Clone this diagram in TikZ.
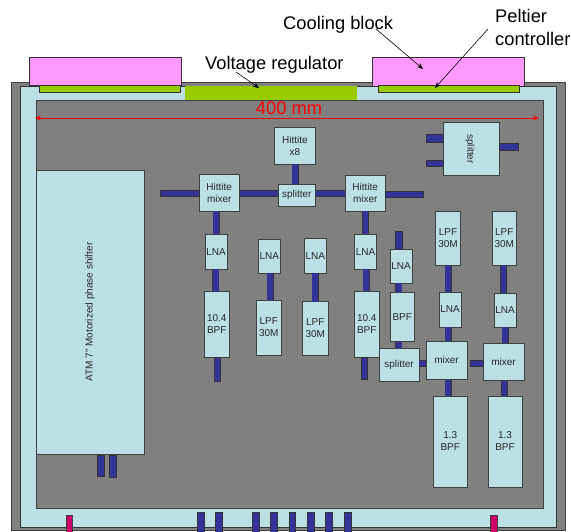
\documentclass[tikz,border=0pt]{standalone}
\usepackage{fontspec}
\setmainfont{Liberation Sans}
\usepackage{xcolor}
\usetikzlibrary{arrows.meta}
\definecolor{CaseGray}{HTML}{808080}
\definecolor{CaseLine}{HTML}{404040}
\definecolor{PlateBlue}{HTML}{BAE0E4}
\definecolor{BlockPink}{HTML}{FF99FF}
\definecolor{PadGreen}{HTML}{99CC00}
\definecolor{WireBlue}{HTML}{333399}
\definecolor{PortRed}{HTML}{CC0066}
\tikzset{
  rfbox/.style={draw=CaseLine, fill=PlateBlue, line width=0.8pt, inner sep=0pt, outer sep=0pt, align=center, text=black!85, font=\fontsize{10}{12}\selectfont},
  plate/.style={draw=black!80, line width=0.7pt, inner sep=0pt, outer sep=0pt},
  wire/.style={draw=black!80, line width=0.6pt, double=WireBlue, double distance=5.8pt},
  stub/.style={draw=black!80, fill=WireBlue, line width=0.6pt},
  port/.style={fill=PortRed, draw=CaseLine, line width=0.3pt},
  callout/.style={font=\fontsize{18.3}{23}\selectfont, inner sep=0pt, align=left},
  pointer/.style={-{Stealth[length=6pt, width=5pt]}, line width=0.6pt}
}
\begin{document}
\begin{tikzpicture}[x=1pt, y=-1pt]
  \useasboundingbox (0,0) rectangle (571,532);
  \filldraw[fill=CaseGray, draw=CaseLine, line width=0.8pt] (11,82) rectangle (565,530);
  \filldraw[fill=PlateBlue, draw=black!80, line width=0.7pt] (20,86) rectangle (556,527);
  \filldraw[fill=CaseGray, draw=CaseLine, line width=0.7pt] (36,100) rectangle (543,508);

  \node[plate, fill=BlockPink, minimum width=152.5pt, minimum height=28pt] (coolblocka) at (105.5,71) {};
  \node[plate, fill=PadGreen, minimum width=141pt, minimum height=7pt] (peltiera) at (109.5,89) {};
  \node[plate, fill=PadGreen, draw=none, minimum width=172.5pt, minimum height=13.5pt] (regulator) at (270.75,93.25) {};
  \node[plate, fill=BlockPink, minimum width=152pt, minimum height=28.5pt] (coolblockb) at (448,71.75) {};
  \node[plate, fill=PadGreen, minimum width=141pt, minimum height=7pt] (peltierb) at (448.5,89) {};

  \node[callout, anchor=west] (coollabel) at (283,25) {Cooling block};
  \node[callout, anchor=west] (reglabel) at (205,65) {Voltage regulator};
  \node[callout, anchor=west] (peltlabel) at (495,27) {Peltier\\controller};
  \node[font=\fontsize{18.3}{23}\selectfont, text=red, inner sep=0pt] (widthlabel) at (289,108) {400 mm};
  \coordinate (regfrom) at (236,72);
  \coordinate (regto) at (259,88);
  \coordinate (coolfrom) at (376,29);
  \coordinate (coolto) at (423,69);
  \coordinate (peltfrom) at (488,29);
  \coordinate (peltto) at (435,88);
  \coordinate (widthl) at (35,118);
  \coordinate (widthr) at (539,118);
  \draw[pointer] (regfrom) -- (regto);
  \draw[pointer] (coolfrom) -- (coolto);
  \draw[pointer] (peltfrom) -- (peltto);
  \draw[{Stealth[length=6pt, width=5pt]}-{Stealth[length=6pt, width=5pt]}, red, line width=0.6pt] (widthl) -- (widthr);

  \node[rfbox, minimum width=108pt, minimum height=284pt] (shifter) at (90.5,312) {};
  \node[font=\fontsize{10}{12}\selectfont, text=black!85, rotate=90, inner sep=0pt] (shifterlabel) at (90,312) {ATM 7" Motorized phase shifter};
  \node[rfbox, minimum width=40.5pt, minimum height=37pt] (hitx) at (295,145.5) {Hittite\\x8};
  \node[rfbox, minimum width=40.5pt, minimum height=37pt] (mixa) at (219.25,192.5) {Hittite\\mixer};
  \node[rfbox, minimum width=37.5pt, minimum height=22pt] (splita) at (296.75,195) {splitter};
  \node[rfbox, minimum width=40.5pt, minimum height=36.5pt] (mixb) at (365.25,193.25) {Hittite\\mixer};
  \node[rfbox, minimum width=55.5pt, minimum height=53pt] (splitb) at (471.5,149) {};
  \node[font=\fontsize{10}{12}\selectfont, text=black!85, rotate=-90, inner sep=0pt] (splitblabel) at (470,149) {splitter};

  \node[rfbox, minimum width=22pt, minimum height=35pt] (lnaa) at (216,252) {LNA};
  \node[rfbox, minimum width=21.5pt, minimum height=34pt] (lnab) at (269.25,256) {LNA};
  \node[rfbox, minimum width=21.5pt, minimum height=34.5pt] (lnac) at (315.25,255.75) {LNA};
  \node[rfbox, minimum width=22pt, minimum height=34.5pt] (lnad) at (365.5,251.75) {LNA};
  \node[rfbox, minimum width=22pt, minimum height=33.5pt] (lnae) at (401,266.25) {LNA};
  \node[rfbox, minimum width=22pt, minimum height=35pt] (lnaf) at (450,309.5) {LNA};
  \node[rfbox, minimum width=22pt, minimum height=34pt] (lnag) at (505,310) {LNA};

  \node[rfbox, minimum width=24.5pt, minimum height=65.5pt] (bpfa) at (216.75,324.25) {10.4\\BPF};
  \node[rfbox, minimum width=24.5pt, minimum height=55pt] (lpfa) at (268.75,327.5) {LPF\\30M};
  \node[rfbox, minimum width=25.5pt, minimum height=53.5pt] (lpfb) at (315.25,328.5) {LPF\\30M};
  \node[rfbox, minimum width=24.5pt, minimum height=66pt] (bpfb) at (366.75,324) {10.4\\BPF};
  \node[rfbox, minimum width=24.5pt, minimum height=49.5pt] (bpfc) at (402.25,316.75) {BPF};
  \node[rfbox, minimum width=24.75pt, minimum height=53.5pt] (lpfc) at (448.1,238.25) {LPF\\30M};
  \node[rfbox, minimum width=24.5pt, minimum height=53.5pt] (lpfd) at (504.25,238.25) {LPF\\30M};
  \node[rfbox, minimum width=40pt, minimum height=33.5pt] (splitc) at (399,364.75) {splitter};
  \node[rfbox, minimum width=41pt, minimum height=38.5pt] (mixc) at (446.5,360.25) {mixer};
  \node[rfbox, minimum width=41pt, minimum height=37.5pt] (mixd) at (503.5,361.75) {mixer};
  \node[rfbox, minimum width=34.5pt, minimum height=91pt] (ifa) at (450.25,441.5) {1.3\\BPF};
  \node[rfbox, minimum width=34pt, minimum height=91pt] (ifb) at (505,441.5) {1.3\\BPF};

  \draw[wire] (295,0 |- hitx.south) -- (295,0 |- splita.north);
  \draw[wire] (mixa.east |- 0,193.5) -- (splita.west |- 0,193.5);
  \draw[wire] (splita.east |- 0,193.5) -- (mixb.west |- 0,193.5);
  \draw[wire] (216,0 |- mixa.south) -- (216,0 |- lnaa.north);
  \draw[wire] (365.5,0 |- mixb.south) -- (365.5,0 |- lnad.north);
  \draw[wire] (215.75,0 |- lnaa.south) -- (215.75,0 |- bpfa.north);
  \draw[wire] (270.25,0 |- lnab.south) -- (270.25,0 |- lpfa.north);
  \draw[wire] (315.25,0 |- lnac.south) -- (315.25,0 |- lpfb.north);
  \draw[wire] (366,0 |- lnad.south) -- (366,0 |- bpfb.north);
  \draw[wire] (398.75,0 |- lnae.south) -- (398.75,0 |- bpfc.north);
  \draw[wire] (398.75,0 |- bpfc.south) -- (398.75,0 |- splitc.north);
  \draw[wire] (splitc.east |- 0,363.5) -- (mixc.west |- 0,363.5);
  \draw[wire] (448,0 |- lpfc.south) -- (448,0 |- lnaf.north);
  \draw[wire] (503.5,0 |- lpfd.south) -- (503.5,0 |- lnag.north);
  \draw[wire] (448.25,0 |- lnaf.south) -- (448.25,0 |- mixc.north);
  \draw[wire] (505.25,0 |- lnag.south) -- (505.25,0 |- mixd.north);
  \draw[wire] (448.25,0 |- mixc.south) -- (448.25,0 |- ifa.north);
  \draw[wire] (504.5,0 |- mixd.south) -- (504.5,0 |- ifb.north);

  \filldraw[stub] (160.5,190) rectangle (199,196);
  \filldraw[stub] (385.5,191) rectangle (423.5,197);
  \filldraw[stub] (426,134.5) rectangle (443.7,142);
  \filldraw[stub] (426,160.5) rectangle (443.7,166.5);
  \filldraw[stub] (499.3,143.5) rectangle (518,150);
  \filldraw[stub] (395.7,231) rectangle (402,249.5);
  \filldraw[stub] (214.5,357) rectangle (220.5,381);
  \filldraw[stub] (361.5,357) rectangle (367.5,379.5);
  \filldraw[stub] (470,360) rectangle (483,366.5);
  \filldraw[stub] (97.5,455) rectangle (104,476.5);
  \filldraw[stub] (109,455) rectangle (116,477.5);

  \foreach \xa/\xb in {197/204, 215/222, 252/259, 270/277, 289/295, 307.7/314, 325.7/332.7, 344.5/351.5}
    \filldraw[stub] (\xa,512) rectangle (\xb,533);
  \foreach \xa/\xb in {66/72, 490/497}
    \filldraw[port] (\xa,515) rectangle (\xb,533);
\end{tikzpicture}
\end{document}
